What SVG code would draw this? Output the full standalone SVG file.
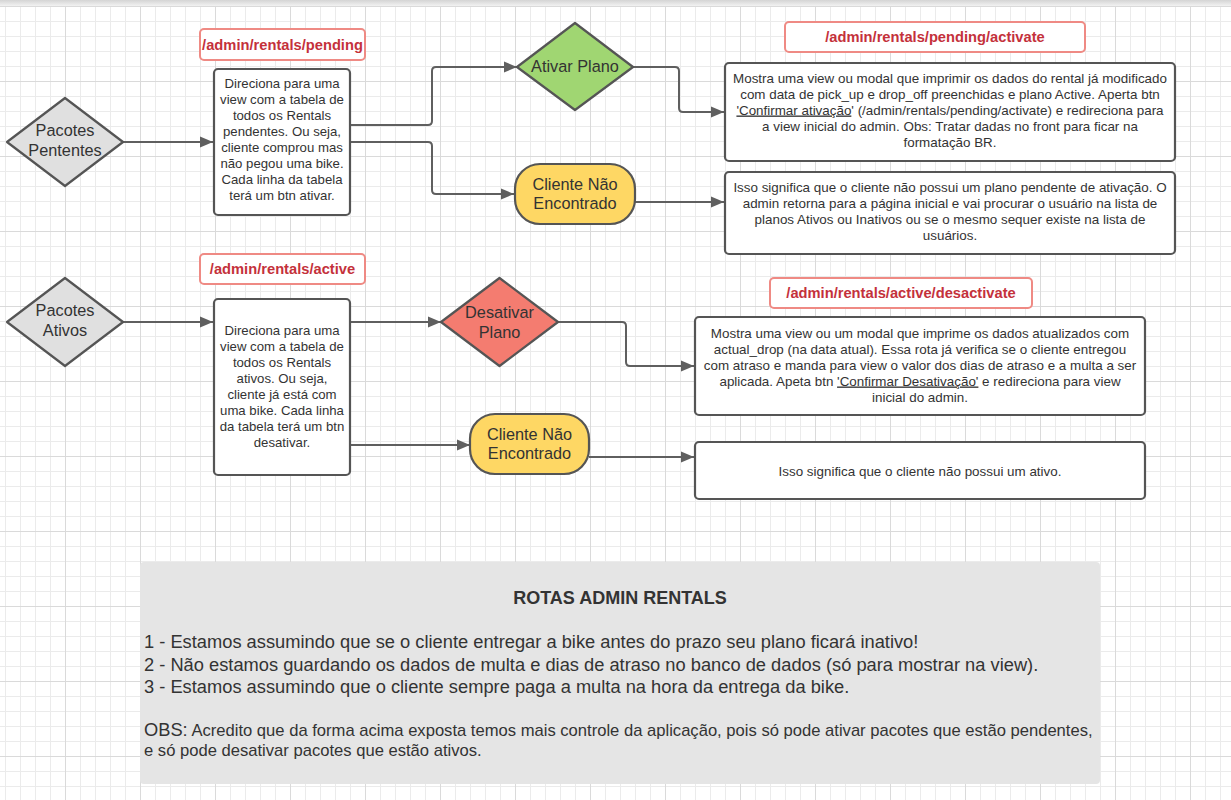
<svg xmlns="http://www.w3.org/2000/svg" width="1231" height="800" viewBox="0 0 1231 800">
<defs>
<pattern id="minor" width="15" height="15" patternUnits="userSpaceOnUse" x="5" y="6"><path d="M0 0.5H15M0.5 0V15" stroke="#ebebeb" stroke-width="1" fill="none"/></pattern>
<pattern id="major" width="75" height="75" patternUnits="userSpaceOnUse" x="65" y="6"><path d="M0 0.5H75M0.5 0V75" stroke="#dadada" stroke-width="1" fill="none"/></pattern>
<linearGradient id="topbar" x1="0" y1="0" x2="0" y2="1"><stop offset="0" stop-color="#d4d4d4"/><stop offset="1" stop-color="#f2f2f2"/></linearGradient>
<marker id="arrow" markerUnits="userSpaceOnUse" markerWidth="14" markerHeight="12" refX="13" refY="6" orient="auto"><path d="M0 0.5L13 6L0 11.5Z" fill="#5f5f5f"/></marker>
<style>
text{font-family:"Liberation Sans",Arial,sans-serif;fill:#333}
.box{fill:#fff;stroke:#555;stroke-width:2.2}
.lbl{fill:#fff;stroke:#ef8a84;stroke-width:2}
.lt{font-size:14.7px;font-weight:bold;fill:#c4313b;text-anchor:middle}
.bt{font-size:13.2px;text-anchor:middle}
.rt{font-size:13.4px;text-anchor:middle}
.nt{font-size:16.3px;text-anchor:middle}
.shape{stroke:#555;stroke-width:2.2;stroke-linejoin:round}
.con{fill:none;stroke:#5f5f5f;stroke-width:2;marker-end:url(#arrow)}
.note{font-size:18.3px}
.obs{font-size:16.6px}
</style>
</defs>
<rect width="1231" height="800" fill="#fff"/>
<rect width="1231" height="800" fill="url(#minor)"/>
<rect width="1231" height="800" fill="url(#major)"/>
<rect width="1231" height="6" fill="url(#topbar)"/>

<g id="connectors">
<path class="con" d="M123 142H213"/>
<path class="con" d="M350 125H428Q432 125 432 121V71Q432 67 436 67H517"/>
<path class="con" d="M350 142H428Q432 142 432 146V190Q432 194 436 194H514"/>
<path class="con" d="M633 67H675Q679 67 679 71V108Q679 112 683 112H724"/>
<path class="con" d="M635 202H724"/>
<path class="con" d="M123 322H213"/>
<path class="con" d="M350 322H441"/>
<path class="con" d="M350 445H470"/>
<path class="con" d="M558 322H622Q626 322 626 326V362Q626 366 630 366H694"/>
<path class="con" d="M589 457H694"/>
</g>

<g id="pacotes-pendentes">
<path class="shape" fill="#e0e0e0" d="M65 98L123 142L65 186L7 142Z"/>
<text class="nt" x="65" y="136">Pacotes</text>
<text class="nt" x="65" y="156">Pententes</text>
</g>

<g id="label-pending">
<rect class="lbl" x="200" y="29" width="165" height="31" rx="4"/>
<text class="lt" x="282.5" y="50">/admin/rentals/pending</text>
</g>

<g id="box-pending">
<rect class="box" x="214" y="69" width="136" height="146" rx="4"/>
<text class="bt" x="282" y="87.5">Direciona para uma</text>
<text class="bt" x="282" y="103.5">view com a tabela de</text>
<text class="bt" x="282" y="119.5">todos os Rentals</text>
<text class="bt" x="282" y="135.5">pendentes. Ou seja,</text>
<text class="bt" x="282" y="151.5">cliente comprou mas</text>
<text class="bt" x="282" y="167.5">não pegou uma bike.</text>
<text class="bt" x="282" y="183.5">Cada linha da tabela</text>
<text class="bt" x="282" y="199.5">terá um btn ativar.</text>
</g>

<g id="ativar-plano">
<path class="shape" fill="#a0d672" d="M575 23L633 67L575 110L517 67Z"/>
<text class="nt" x="575" y="72">Ativar Plano</text>
</g>

<g id="cliente-nao-encontrado-1">
<rect class="shape" fill="#fed764" x="515" y="164" width="120" height="60" rx="25"/>
<text class="nt" x="575" y="190">Cliente Não</text>
<text class="nt" x="575" y="209">Encontrado</text>
</g>

<g id="label-activate">
<rect class="lbl" x="785" y="22" width="300" height="30" rx="4"/>
<text class="lt" x="935" y="42">/admin/rentals/pending/activate</text>
</g>

<g id="box-activate">
<rect class="box" x="725" y="63" width="450" height="98" rx="4"/>
<text class="rt" x="950" y="82.5">Mostra uma view ou modal que imprimir os dados do rental já modificado</text>
<text class="rt" x="950" y="98.5">com data de pick_up e drop_off preenchidas e plano Active. Aperta btn</text>
<text class="rt" x="950" y="114.5"><tspan text-decoration="underline">'Confirmar ativação</tspan>' (/admin/rentals/pending/activate) e redireciona para</text>
<text class="rt" x="950" y="130.5">a view inicial do admin. Obs: Tratar dadas no front para ficar na</text>
<text class="rt" x="950" y="147">formatação BR.</text>
</g>

<g id="box-nao-encontrado-1">
<rect class="box" x="725" y="172" width="450" height="82" rx="4"/>
<text class="rt" x="950" y="191.5">Isso significa que o cliente não possui um plano pendente de ativação. O</text>
<text class="rt" x="950" y="207.5">admin retorna para a página inicial e vai procurar o usuário na lista de</text>
<text class="rt" x="950" y="223.5">planos Ativos ou Inativos ou se o mesmo sequer existe na lista de</text>
<text class="rt" x="950" y="239.5">usuários.</text>
</g>

<g id="pacotes-ativos">
<path class="shape" fill="#e0e0e0" d="M65 278L123 322L65 366L7 322Z"/>
<text class="nt" x="65" y="316">Pacotes</text>
<text class="nt" x="65" y="336">Ativos</text>
</g>

<g id="label-active">
<rect class="lbl" x="200" y="254" width="165" height="30" rx="4"/>
<text class="lt" x="282.5" y="274">/admin/rentals/active</text>
</g>

<g id="box-active">
<rect class="box" x="214" y="299" width="136" height="176" rx="4"/>
<text class="bt" x="282" y="335.2">Direciona para uma</text>
<text class="bt" x="282" y="351.2">view com a tabela de</text>
<text class="bt" x="282" y="367.2">todos os Rentals</text>
<text class="bt" x="282" y="383.2">ativos. Ou seja,</text>
<text class="bt" x="282" y="399.2">cliente já está com</text>
<text class="bt" x="282" y="415.2">uma bike. Cada linha</text>
<text class="bt" x="282" y="431.2">da tabela terá um btn</text>
<text class="bt" x="282" y="447.2">desativar.</text>
</g>

<g id="desativar-plano">
<path class="shape" fill="#f47c70" d="M499.5 278L558 322L499.5 366L441 322Z"/>
<text class="nt" x="499.5" y="318">Desativar</text>
<text class="nt" x="499.5" y="338">Plano</text>
</g>

<g id="cliente-nao-encontrado-2">
<rect class="shape" fill="#fed764" x="470" y="414" width="119" height="60" rx="25"/>
<text class="nt" x="529.5" y="440">Cliente Não</text>
<text class="nt" x="529.5" y="459">Encontrado</text>
</g>

<g id="label-desactivate">
<rect class="lbl" x="770" y="278" width="262" height="30" rx="4"/>
<text class="lt" x="901" y="298">/admin/rentals/active/desactivate</text>
</g>

<g id="box-desactivate">
<rect class="box" x="695" y="317" width="450" height="98" rx="4"/>
<text class="rt" x="920" y="337.5">Mostra uma view ou um modal que imprime os dados atualizados com</text>
<text class="rt" x="920" y="353.5">actual_drop (na data atual). Essa rota já verifica se o cliente entregou</text>
<text class="rt" x="920" y="369.5">com atraso e manda para view o valor dos dias de atraso e a multa a ser</text>
<text class="rt" x="920" y="385.5">aplicada. Apeta btn <tspan text-decoration="underline">'Confirmar Desativação'</tspan> e redireciona para view</text>
<text class="rt" x="920" y="401.5">inicial do admin.</text>
</g>

<g id="box-nao-encontrado-2">
<rect class="box" x="695" y="442" width="450" height="57" rx="4"/>
<text class="rt" x="920" y="475.5">Isso significa que o cliente não possui um ativo.</text>
</g>

<g id="notes">
<rect x="140" y="562" width="960" height="222" rx="4" fill="#e5e5e5"/>
<text x="620" y="603.5" font-size="18" font-weight="bold" text-anchor="middle">ROTAS ADMIN RENTALS</text>
<text class="note" x="144" y="648">1 - Estamos assumindo que se o cliente entregar a bike antes do prazo seu plano ficará inativo!</text>
<text class="note" x="144" y="670.5">2 - Não estamos guardando os dados de multa e dias de atraso no banco de dados (só para mostrar na view).</text>
<text class="note" x="144" y="693">3 - Estamos assumindo que o cliente sempre paga a multa na hora da entrega da bike.</text>
<text class="obs" x="144" y="736"><tspan font-size="18.3">OBS:</tspan> Acredito que da forma acima exposta temos mais controle da aplicação, pois só pode ativar pacotes que estão pendentes,</text>
<text class="obs" x="144" y="756">e só pode desativar pacotes que estão ativos.</text>
</g>
</svg>
